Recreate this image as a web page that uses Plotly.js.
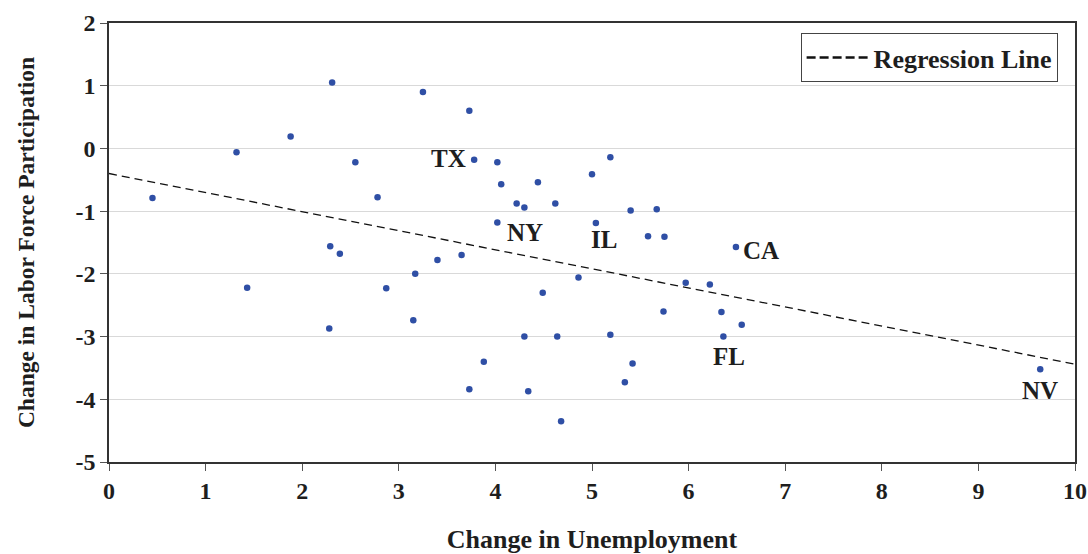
<!DOCTYPE html>
<html>
<head>
<meta charset="utf-8">
<script src="https://cdn.plot.ly/plotly-3.0.1.min.js"></script>
<style>
  html, body { margin: 0; padding: 0; background: #fff; }
  #chart { width: 1088px; height: 554px; }
</style>
</head>
<body>
<div id="chart"></div>
<script>
// change in unemployment (x) and labor force participation (y), one point per state
const unempChange = [
  0.45, 1.32, 1.43, 1.88, 2.31, 2.55, 2.78, 2.29, 2.39, 2.87,
  3.17, 3.25, 3.40, 3.65, 3.73, 3.78, 4.02, 4.06, 4.02, 4.22,
  4.30, 4.44, 4.62, 5.00, 5.19, 5.04, 5.40, 5.67, 5.58, 5.75,
  6.49, 4.86, 4.49, 5.97, 6.22, 3.15, 2.28, 5.74, 6.34, 6.55,
  4.30, 4.64, 5.19, 6.36, 3.88, 5.42, 3.73, 4.34, 5.34, 4.68,
  9.64
];
const lfpChange = [
  -0.79, -0.06, -2.22, 0.19, 1.05, -0.22, -0.78, -1.56, -1.68, -2.23,
  -2.00, 0.90, -1.78, -1.70, 0.60, -0.18, -0.22, -0.57, -1.18, -0.88,
  -0.94, -0.54, -0.88, -0.41, -0.14, -1.19, -0.99, -0.97, -1.40, -1.41,
  -1.57, -2.06, -2.30, -2.14, -2.17, -2.74, -2.87, -2.60, -2.61, -2.81,
  -3.00, -3.00, -2.97, -3.00, -3.40, -3.43, -3.84, -3.87, -3.73, -4.35,
  -3.52
];

// regression line end points
const regX = [0, 10];
const regY = [-0.40, -3.44];

// labelled states
const stateLabels = ['TX', 'NY', 'IL', 'CA', 'FL', 'NV'];
const labelX = [3.78, 4.02, 5.04, 6.49, 6.36, 9.64];
const labelY = [-0.18, -1.18, -1.19, -1.57, -3.00, -3.52];

const xTicks = [0, 1, 2, 3, 4, 5, 6, 7, 8, 9, 10];
const yTicks = [-5, -4, -3, -2, -1, 0, 1, 2];

const serif = '"Liberation Serif", "Times New Roman", serif';
const ink = '#1e1e1e';

// where each label sits relative to its dot (px)
const labelPos = {
  TX: { xanchor: 'right',  xshift: -6, yshift: 1 },
  NY: { xanchor: 'left',   xshift: 8,  yshift: -10 },
  IL: { xanchor: 'center', xshift: 8,  yshift: -16 },
  CA: { xanchor: 'left',   xshift: 5,  yshift: -4 },
  FL: { xanchor: 'center', xshift: 6,  yshift: -20 },
  NV: { xanchor: 'center', xshift: 0,  yshift: -21 }
};

const annotations = stateLabels.map((s, i) => ({
  x: labelX[i], y: labelY[i], text: s, showarrow: false,
  xanchor: labelPos[s].xanchor, yanchor: 'middle',
  xshift: labelPos[s].xshift, yshift: labelPos[s].yshift,
  font: { family: serif, size: 25, weight: 700, color: ink }
}));

const data = [
  {
    x: unempChange, y: lfpChange, type: 'scatter', mode: 'markers',
    marker: { size: 6.5, color: '#2f4fa5' },
    showlegend: false, hoverinfo: 'x+y'
  },
  {
    x: regX, y: regY, type: 'scatter', mode: 'lines',
    showlegend: false,
    line: { color: '#111', width: 1.3, dash: '8px,5px' }
  },
  // legend entry only, drawn with heavier dashes like the original key
  {
    x: [null], y: [null], type: 'scatter', mode: 'lines',
    name: 'Regression Line',
    line: { color: '#111', width: 2.5, dash: '9px,4px' }
  }
];

const layout = {
  width: 1088, height: 554,
  margin: { l: 109, r: 13, t: 23, b: 92 },
  paper_bgcolor: '#fff', plot_bgcolor: '#fff',
  font: { family: serif, color: ink },
  xaxis: {
    range: [0, 10], tickmode: 'array', tickvals: xTicks, ticktext: xTicks.map(String),
    ticks: 'outside', ticklen: 7, tickcolor: '#555',
    showgrid: false, zeroline: false,
    showline: true, linecolor: '#333', linewidth: 1.6, mirror: true,
    tickfont: { family: serif, size: 24, weight: 700, color: ink },
    title: { text: 'Change in Unemployment', standoff: 26,
             font: { family: serif, size: 26, weight: 700, color: ink } }
  },
  yaxis: {
    range: [-5, 2], tickmode: 'array', tickvals: yTicks, ticktext: yTicks.map(String),
    ticks: 'outside', ticklen: 7, tickcolor: '#555',
    showgrid: true, gridcolor: '#d9d9d9', gridwidth: 1, zeroline: false,
    showline: true, linecolor: '#333', linewidth: 1.6, mirror: true,
    tickfont: { family: serif, size: 24, weight: 700, color: ink },
    title: { text: 'Change in Labor Force Participation', standoff: 34,
             font: { family: serif, size: 23.5, weight: 700, color: ink } }
  },
  legend: {
    x: 0.982, y: 0.977, xanchor: 'right', yanchor: 'top',
    bgcolor: '#fff', bordercolor: '#444', borderwidth: 1,
    itemwidth: 62,
    font: { family: serif, size: 26, weight: 700, color: ink }
  },
  annotations: annotations,
  showlegend: true
};

Plotly.newPlot('chart', data, layout, { displayModeBar: false, staticPlot: true });
</script>
</body>
</html>
